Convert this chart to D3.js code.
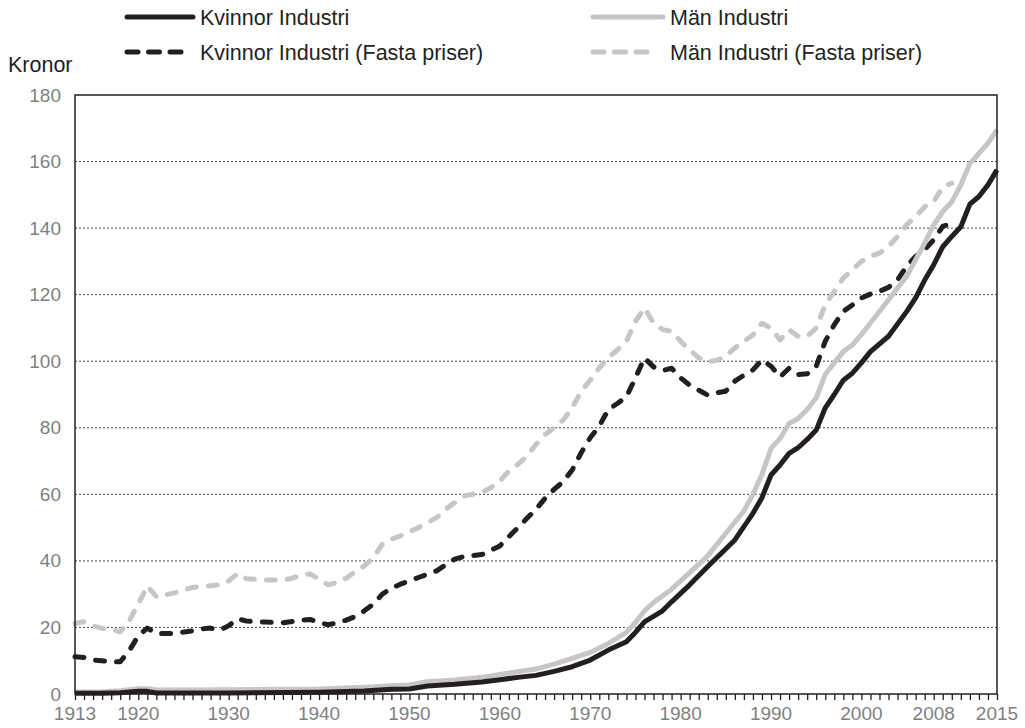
<!DOCTYPE html>
<html>
<head>
<meta charset="utf-8">
<script src="https://cdn.jsdelivr.net/npm/d3@7"></script>
<style>
	body { margin: 0; background: #fff; }
	svg { display: block; font-family: Arial, "Liberation Sans", sans-serif; }
</style>
</head>
<body>
<svg width="1025" height="728"></svg>
<script>
// values: [year, kronor]
var kvinnor = [[1913,0.2],[1916,0.2],[1918,0.4],[1920,0.8],[1921,0.8],[1922,0.3],[1930,0.3],[1940,0.5],
	[1945,0.9],[1948,1.4],[1950,1.5],[1952,2.4],[1955,2.9],[1958,3.6],[1960,4.3],[1962,5.0],[1964,5.6],
	[1966,6.8],[1968,8.2],[1970,10.2],[1972,13.2],[1974,15.7],[1975,18.5],[1976,21.7],[1978,25.0],
	[1979,27.7],[1981,32.8],[1983,38.3],[1986,46.3],[1988,54.3],[1989,59],[1990,65.8],[1991,68.8],
	[1992,72.3],[1993,74.0],[1994,76.5],[1995,79.3],[1996,86.0],[1997,90],[1998,94.3],[1999,96.4],
	[2000,99.5],[2001,102.9],[2003,107.5],[2005,114.9],[2006,119],[2007,124.4],[2008,129],[2009,134.4],
	[2010,137.5],[2011,140.4],[2012,147.2],[2013,149.5],[2014,153],[2015,157.5]];

var man = [[1913,0.6],[1916,0.7],[1918,1.0],[1920,1.6],[1921,1.6],[1922,1.2],[1930,1.3],[1940,1.5],
	[1945,2.0],[1948,2.5],[1950,2.7],[1952,3.7],[1955,4.2],[1958,5.0],[1960,5.9],[1962,6.7],[1964,7.5],
	[1966,9.0],[1968,10.7],[1970,12.5],[1972,15.2],[1974,18.5],[1975,21.5],[1976,25.0],[1977,27.5],
	[1979,31.5],[1981,36.5],[1983,41.5],[1985,48.3],[1987,55],[1988,60],[1989,66],[1990,73.8],
	[1991,76.8],[1992,81.3],[1993,82.8],[1994,85.5],[1995,89],[1996,96],[1997,99.5],[1998,102.9],
	[1999,104.9],[2000,108],[2001,111.5],[2003,118.5],[2005,125.5],[2007,135.5],[2008,141],[2009,145],
	[2010,147.9],[2011,153],[2012,159.4],[2014,165.5],[2015,169.5]];

var kvinnorFasta = [[1913,11.2],[1914,11.0],[1915,10.2],[1917,9.7],[1918,9.7],[1919,13],[1920,17.5],
	[1921,19.8],[1922,18.2],[1924,18.2],[1926,19],[1927,19.6],[1928,19.8],[1929,19.2],[1930,20.5],
	[1931,22.6],[1932,21.9],[1934,21.6],[1936,21.4],[1938,22.2],[1939,22.4],[1940,21.5],[1941,20.8],
	[1942,21.4],[1943,22.2],[1944,23.3],[1945,25],[1946,27],[1947,30],[1948,31.8],[1949,33],[1950,34],
	[1951,35],[1952,36],[1953,37],[1954,38.8],[1955,40.5],[1956,41.3],[1958,41.9],[1959,43.2],
	[1960,44.5],[1961,47.3],[1962,50],[1963,52.8],[1964,55.5],[1965,58.8],[1966,61.5],[1967,63.8],
	[1968,67.3],[1969,72.5],[1970,77],[1971,80.5],[1972,85.5],[1973,87.3],[1974,89.3],[1975,95],
	[1976,101],[1977,98.3],[1978,97.2],[1979,97.9],[1980,95],[1981,92.8],[1982,91.3],[1983,89.8],
	[1984,90.5],[1985,91],[1986,94],[1987,95.8],[1988,97.4],[1989,100.4],[1990,98.5],[1991,95.3],
	[1992,97.9],[1993,96],[1994,96.2],[1995,98.5],[1996,106],[1997,111],[1998,115],[1999,116.9],
	[2000,119],[2001,120.2],[2002,121],[2003,122.2],[2004,124.5],[2005,128.5],[2006,131.5],
	[2007,133.5],[2008,136.5],[2009,140.5],[2010,141.5]];

var manFasta = [[1913,21.2],[1914,21.7],[1915,20.5],[1916,19.7],[1917,19.5],[1918,18.7],[1919,22],
	[1920,27],[1921,32.5],[1922,29.2],[1923,29.8],[1924,30.4],[1926,32],[1927,32.3],[1929,32.8],
	[1930,34],[1931,36.2],[1932,34.6],[1934,34.3],[1936,34.2],[1937,34.8],[1938,35.6],[1939,36.1],
	[1940,34.5],[1941,32.8],[1942,33.5],[1943,34.8],[1944,36.8],[1945,38.5],[1946,41],[1947,45],
	[1948,46.5],[1949,47.5],[1950,48.8],[1951,50],[1952,51.5],[1953,53],[1954,55.5],[1955,57.5],
	[1956,59.5],[1957,60],[1958,60.5],[1959,62],[1960,64],[1961,67],[1962,69],[1963,71.5],[1964,75],
	[1965,78],[1966,80],[1967,82.3],[1968,86],[1969,91],[1970,94.3],[1971,98],[1972,101],[1973,103.4],
	[1974,106],[1975,112],[1976,116],[1977,111.5],[1978,109.5],[1979,109],[1980,106],[1981,103.4],
	[1982,101],[1983,99.8],[1984,100.3],[1985,101.5],[1986,104],[1987,106],[1988,107.9],[1989,111.4],
	[1990,109.9],[1991,106.4],[1992,109.4],[1993,107.5],[1994,107.5],[1995,110],[1996,117],[1997,121],
	[1998,125],[1999,127.5],[2000,130],[2001,131.5],[2002,132.5],[2003,134.5],[2004,137.5],[2005,141],
	[2006,143.5],[2007,146.4],[2008,148],[2009,152.4],[2010,153.5]];

var yTicks = [0, 20, 40, 60, 80, 100, 120, 140, 160, 180];
var xLabels = [1913, 1920, 1930, 1940, 1950, 1960, 1970, 1980, 1990, 2000, 2008, 2015];

var black = "#231f20";
var grey = "#c6c6c6";

var series = [
	{name: "Män Industri (Fasta priser)", data: manFasta, color: grey, dashed: true},
	{name: "Kvinnor Industri (Fasta priser)", data: kvinnorFasta, color: black, dashed: true},
	{name: "Män Industri", data: man, color: grey, dashed: false},
	{name: "Kvinnor Industri", data: kvinnor, color: black, dashed: false}
];

var plot = {x: 75, y: 95, w: 922, h: 599};
var svg = d3.select("svg");

var xScale = d3.scaleLinear().domain([1913, 2015]).range([plot.x, plot.x + plot.w]);
var yScale = d3.scaleLinear().domain([0, 180]).range([plot.y + plot.h, plot.y]);

// dotted grid lines
svg.append("g")
	.selectAll("line")
	.data(yTicks.filter(function(d){ return d > 0 && d < 180; }))
	.enter().append("line")
	.attr("x1", plot.x)
	.attr("x2", plot.x + plot.w)
	.attr("y1", function(d){ return yScale(d); })
	.attr("y2", function(d){ return yScale(d); })
	.attr("stroke", "#444")
	.attr("stroke-width", 1)
	.attr("stroke-dasharray", "2,2");

// y axis labels
var yAxis = d3.axisLeft(yScale).tickValues(yTicks).tickSize(0).tickPadding(14);
svg.append("g")
	.attr("transform", "translate(" + plot.x + ",0)")
	.call(yAxis)
	.call(function(g){ g.select(".domain").remove(); })
	.selectAll("text")
	.attr("font-size", "19px")
	.attr("fill", "#7f7f7f");

// x axis: a tick every year, labels on a few
var years = d3.range(1913, 2016);
var xAxis = d3.axisBottom(xScale).tickValues(years).tickSize(6).tickFormat("");
svg.append("g")
	.attr("transform", "translate(0," + (plot.y + plot.h) + ")")
	.call(xAxis)
	.call(function(g){
		g.select(".domain").remove();
		g.selectAll(".tick line").attr("stroke", black).attr("stroke-width", 1.3);
	});

svg.append("g")
	.selectAll("text")
	.data(xLabels)
	.enter().append("text")
	.attr("x", function(d){ return xScale(d); })
	.attr("y", 720)
	.attr("text-anchor", "middle")
	.attr("font-size", "19px")
	.attr("fill", "#7f7f7f")
	.text(function(d){ return d; });

// lines
var lineGenerator = d3.line()
	.x(function(d){ return xScale(d[0]); })
	.y(function(d){ return yScale(d[1]); });

svg.append("g")
	.selectAll("path")
	.data(series)
	.enter().append("path")
	.attr("d", function(d){ return lineGenerator(d.data); })
	.attr("fill", "none")
	.attr("stroke", function(d){ return d.color; })
	.attr("stroke-width", 5)
	.attr("stroke-linejoin", "round")
	.attr("stroke-linecap", function(d){ return d.dashed ? "round" : "butt"; })
	.attr("stroke-dasharray", function(d){ return d.dashed ? "9,12" : null; });

// plot frame
svg.append("rect")
	.attr("x", plot.x)
	.attr("y", plot.y)
	.attr("width", plot.w)
	.attr("height", plot.h)
	.attr("fill", "none")
	.attr("stroke", black)
	.attr("stroke-width", 1.5);

// unit label
svg.append("text")
	.attr("x", 8)
	.attr("y", 72)
	.attr("font-size", "21.5px")
	.attr("fill", black)
	.text("Kronor");

// legend
var legendItems = [
	{s: series[3], x: 125, y: 17, len: 68},
	{s: series[1], x: 125, y: 52, len: 68},
	{s: series[2], x: 591, y: 17, len: 72},
	{s: series[0], x: 591, y: 52, len: 72}
];
var legend = svg.append("g").selectAll("g")
	.data(legendItems)
	.enter().append("g")
	.attr("transform", function(d){ return "translate(" + d.x + "," + d.y + ")"; });

legend.append("line")
	.attr("x1", 2)
	.attr("x2", function(d){ return d.s.dashed ? 58 : d.len; })
	.attr("stroke", function(d){ return d.s.color; })
	.attr("stroke-width", 5)
	.attr("stroke-linecap", "round")
	.attr("stroke-dasharray", function(d){ return d.s.dashed ? "11,10.5" : null; });

legend.append("text")
	.attr("x", function(d){ return d.len + 7; })
	.attr("y", 7.5)
	.attr("font-size", "21.5px")
	.attr("fill", black)
	.text(function(d){ return d.s.name; });
</script>
</body>
</html>
